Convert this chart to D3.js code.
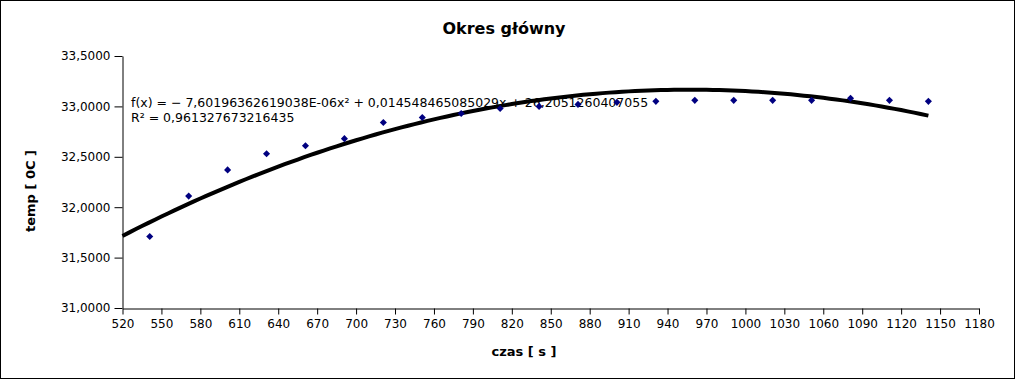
<!DOCTYPE html>
<html><head><meta charset="utf-8">
<script src="https://cdn.jsdelivr.net/npm/d3@7"></script>
<style>body{margin:0;background:#fff}svg{display:block}</style>
</head><body><svg id="c" width="1016" height="380"></svg>
<script>
const title = "Okres główny";
const xLabel = "czas [ s ]";
const yLabel = "temp [ 0C ]";
const times = [541, 571, 601, 631, 661, 691, 721, 751, 781, 811, 841, 871, 901, 931, 961, 991, 1021, 1051, 1081, 1111, 1141];
const temps = [31.71, 32.11, 32.37, 32.53, 32.61, 32.68, 32.84, 32.89, 32.93, 32.98, 33.00, 33.02, 33.04, 33.05, 33.06, 33.06, 33.06, 33.06, 33.08, 33.06, 33.05];
const xTicks = [520, 550, 580, 610, 640, 670, 700, 730, 760, 790, 820, 850, 880, 910, 940, 970, 1000, 1030, 1060, 1090, 1120, 1150, 1180];
const yTicks = [31.0, 31.5, 32.0, 32.5, 33.0, 33.5];
const trendCoefficients = [-7.60196362619038e-6, 0.014548465085029, 26.2051260407055];
const trendRange = [520, 1141];
const equationLines = ["f(x) = − 7,60196362619038E-06x² + 0,014548465085029x + 26,2051260407055", "R² = 0,961327673216435"];

const svg = d3.select("#c");
const font = "'DejaVu Sans', sans-serif";
const x = d3.scaleLinear().domain([520, 1180]).range([122.5, 979]);
const y = d3.scaleLinear().domain([31, 33.5]).range([308, 56]);
const loc = d3.formatLocale({decimal: ",", thousands: " ", grouping: [3], currency: ["", ""]});
const yFmt = loc.format(".4f");

svg.append("rect").attr("x", 0.5).attr("y", 0.5).attr("width", 1014).attr("height", 378)
  .attr("fill", "#fff").attr("stroke", "#000");

svg.append("text").attr("x", 504).attr("y", 34).attr("text-anchor", "middle")
  .attr("font-family", font).attr("font-size", 16).attr("font-weight", "bold").text(title);

const xAxis = svg.append("g").attr("transform", "translate(0,308.5)")
  .call(d3.axisBottom(x).tickValues(xTicks).tickSize(6).tickSizeOuter(0).tickPadding(5).tickFormat(d3.format("d")));
const yAxis = svg.append("g").attr("transform", "translate(122.5,0)")
  .call(d3.axisLeft(y).tickValues(yTicks).tickSize(8).tickSizeOuter(0).tickPadding(4).tickFormat(yFmt));
[xAxis, yAxis].forEach(g => {
  g.selectAll("text").attr("font-family", font).attr("font-size", 12).attr("fill", "#000");
  g.selectAll("line,path").attr("stroke", "#000");
});

svg.append("text").attr("x", 524).attr("y", 356).attr("text-anchor", "middle")
  .attr("font-family", font).attr("font-size", 13).attr("font-weight", "bold").text(xLabel);
svg.append("text").attr("transform", "translate(35,191) rotate(-90)").attr("text-anchor", "middle")
  .attr("font-family", font).attr("font-size", 13).attr("font-weight", "bold").text(yLabel);

const eq = svg.append("g").attr("font-family", font).attr("font-size", 12.5);
equationLines.forEach((t, i) => eq.append("text").attr("x", 131).attr("y", 107 + i * 15).text(t));

const [a, b, c] = trendCoefficients;
const trendX = d3.range(trendRange[0], trendRange[1], 5).concat([trendRange[1]]);
const line = d3.line().x(d => x(d)).y(d => y(a * d * d + b * d + c));
svg.append("path").datum(trendX).attr("d", line).attr("fill", "none")
  .attr("stroke", "#000").attr("stroke-width", 4).attr("stroke-linejoin", "round");

const sym = d3.symbol().type(d3.symbolSquare).size(25);
svg.append("g").selectAll("path").data(times).join("path")
  .attr("d", sym)
  .attr("transform", (d, i) => `translate(${x(d)},${y(temps[i])}) rotate(45)`)
  .attr("fill", "#000080");
</script></body></html>
